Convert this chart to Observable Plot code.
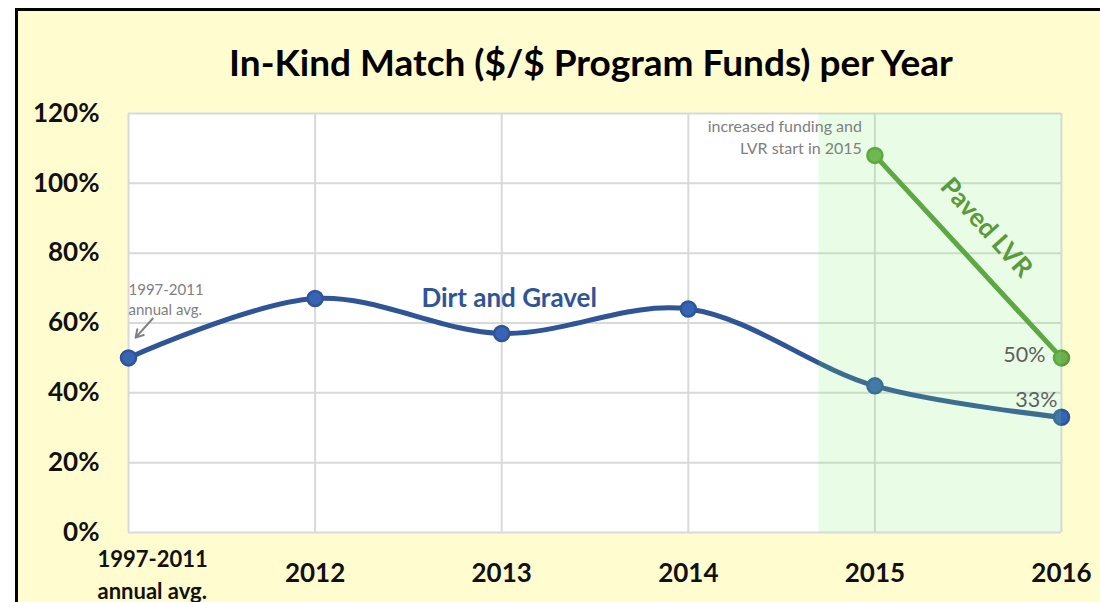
<!DOCTYPE html>
<html>
<head>
<meta charset="utf-8">
<script src="https://cdn.jsdelivr.net/npm/d3@7"></script>
<script src="https://cdn.jsdelivr.net/npm/@observablehq/plot@0.6"></script>
<style>
  html, body { margin: 0; padding: 0; width: 1100px; height: 602px; overflow: hidden; background: #ffffff; font-family: Lato, "Open Sans", sans-serif; }
  #frame { position: absolute; left: 15px; top: 8px; width: 1200px; height: 700px; border: 3px solid #000; background: #fffdcf; }
  #title { position: absolute; left: 0; top: 38px; width: 1182px; text-align: center; font-size: 37px; font-weight: bold; color: #000; line-height: 48px; }
  #chart { position: absolute; left: 0; top: 0; }
  #chart svg { background: transparent !important; overflow: visible; }
</style>
</head>
<body>
<div id="frame"></div>
<div id="title">In-Kind Match ($/$ Program Funds) per Year</div>
<div id="chart"></div>
<script>
const categories = ["1997-2011\nannual avg.", "2012", "2013", "2014", "2015", "2016"];
const dirtGravel = [0.50, 0.67, 0.57, 0.64, 0.42, 0.33];
const pavedLVR = [null, null, null, null, 1.08, 0.50];
const yTicks = [0, 0.2, 0.4, 0.6, 0.8, 1.0, 1.2];
const highlight = [{start: 3.7, end: 5}];

const dg = dirtGravel.map((v, i) => ({i, v}));
const lvr = pavedLVR.map((v, i) => ({i, v})).filter(d => d.v != null);
const blue = "#2f5597", green = "#5a9a3c", gray = "#808080";
const pct = d3.format(".0%");

const plot = Plot.plot({
  width: 1100,
  height: 602,
  marginLeft: 128,
  marginRight: 39,
  marginTop: 113,
  marginBottom: 70,
  style: {fontFamily: "Lato, sans-serif", background: "transparent"},
  x: {domain: [0, categories.length - 1], axis: null},
  y: {domain: [0, 1.2], axis: null},
  marks: [
    Plot.frame({fill: "white", stroke: "none"}),
    Plot.gridY(yTicks, {stroke: "#d9d9d9", strokeOpacity: 1, strokeWidth: 2}),
    Plot.gridX(d3.range(categories.length), {stroke: "#d9d9d9", strokeOpacity: 1, strokeWidth: 2}),
    Plot.line(dg, {x: "i", y: "v", curve: "catmull-rom", stroke: blue, strokeWidth: 5}),
    Plot.dot(dg, {x: "i", y: "v", r: 7.5, fill: "#3764b4", stroke: blue, strokeWidth: 2.5}),
    Plot.line(lvr, {x: "i", y: "v", stroke: green, strokeWidth: 5}),
    Plot.dot(lvr, {x: "i", y: "v", r: 7.5, fill: "#6cae4a", stroke: green, strokeWidth: 2.5}),
    Plot.rect(highlight, {x1: "start", x2: "end", fill: "#77ee6c", fillOpacity: 0.17}),
    Plot.axisY(yTicks, {tickFormat: pct, tickSize: 0, tickPadding: 29, fontSize: 26, fontWeight: "bold", fill: "#111"}),
    Plot.text(categories.slice(0, 1), {x: (d, i) => i, text: d => d, frameAnchor: "bottom", dy: 40, textAnchor: "start", dx: -31, lineAnchor: "middle", lineHeight: 1.45, fontSize: 22, fontWeight: "bold", fill: "#111"}),
    Plot.text(categories.slice(1), {x: (d, i) => i + 1, text: d => d, frameAnchor: "bottom", dy: 41, lineAnchor: "middle", fontSize: 26, fontWeight: "bold", fill: "#111"}),
    // annotations
    Plot.text(dg.slice(0, 1), {x: "i", y: "v", text: () => "1997-2011\nannual avg.", textAnchor: "start", lineAnchor: "middle", dx: 0, dy: -59, fontSize: 15, lineHeight: 1.27, fill: gray}),
    Plot.arrow([{x1: 0.13, y1: 0.613, x2: 0.038, y2: 0.558}], {x1: "x1", y1: "y1", x2: "x2", y2: "y2", stroke: gray, strokeWidth: 2, headLength: 9}),
    Plot.text([{x: 2.04, y: 0.67}], {x: "x", y: "y", text: () => "Dirt and Gravel", fontSize: 26, fontWeight: "bold", fill: blue}),
    Plot.text(lvr.slice(0, 1), {x: "i", y: "v", text: () => "increased funding and\nLVR start in 2015", textAnchor: "end", lineAnchor: "middle", dx: -13, dy: -19, fontSize: 16, lineHeight: 1.38, fill: gray}),
    Plot.text([{x: d3.mean(lvr, d => d.i), y: d3.mean(lvr, d => d.v)}], {x: "x", y: "y", text: () => "Paved LVR", rotate: 48, dx: 18, dy: -29, fontSize: 26, fontWeight: "bold", fill: green}),
    Plot.text(lvr.slice(-1), {x: "i", y: "v", text: d => pct(d.v), textAnchor: "end", dx: -16, dy: -3, fontSize: 21.5, fill: "#5f5f5f"}),
    Plot.text(dg.slice(-1), {x: "i", y: "v", text: d => pct(d.v), textAnchor: "end", dx: -4, dy: -17, fontSize: 21.5, fill: "#5f5f5f"})
  ]
});
document.getElementById("chart").appendChild(plot);
</script>
</body>
</html>
